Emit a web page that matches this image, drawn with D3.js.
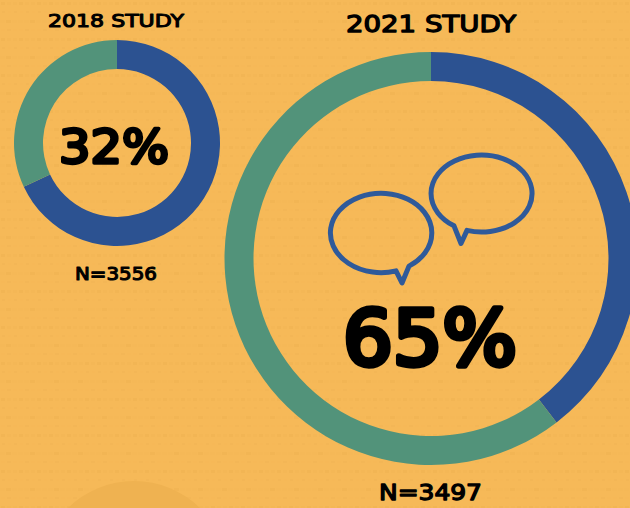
<!DOCTYPE html>
<html><head><meta charset="utf-8">
<script src="https://cdn.jsdelivr.net/npm/d3@7"></script>
<style>html,body{margin:0;padding:0;background:#F6B958;overflow:hidden}svg{display:block}
text{font-family:"DejaVu Sans",sans-serif;font-weight:400;fill:#000;stroke:#000;stroke-linejoin:round}</style></head>
<body><svg id="c" width="630" height="508"></svg>
<script>
const studies = ["2018 STUDY", "2021 STUDY"];
const blueShare = [68, 39.6];
const greenShare = [32, 60.4];
const percentLabels = ["32%", "65%"];
const sampleLabels = ["N=3556", "N=3497"];
const colors = ["#2C5291", "#52937A"];

const layout = [
  {cx:117, cy:143, R:103, r:74,
   title:{x:48,w:136,y:26.5,fs:18,sw:1.1}, pct:{x:59,w:110,y:163,fs:47,sw:3.4}, n:{x:75,w:82,y:279.5,fs:18,sw:1.1}},
  {cx:431, cy:258.5, R:206.5, r:177.5,
   title:{x:346,w:170,y:32,fs:23,sw:1.3}, pct:{x:343,w:174,y:365,fs:76,sw:5.5}, n:{x:379,w:103,y:500,fs:22,sw:1.3}}
];

const svg = d3.select("#c");
const defs = svg.append("defs");
const pat = defs.append("pattern").attr("id","weave").attr("patternUnits","userSpaceOnUse")
  .attr("width",48).attr("height",36);
const tex = "#E2A548";
d3.range(0,48,6).forEach((x,i)=>{
  pat.append("rect").attr("x",x+1).attr("y",2).attr("width",4).attr("height",3).attr("fill",tex).attr("opacity",i%3==0?.2:.09);
  pat.append("rect").attr("x",x+2).attr("y",11).attr("width",3).attr("height",2).attr("fill",tex).attr("opacity",i%2==0?.14:.06);
  pat.append("rect").attr("x",x).attr("y",20).attr("width",5).attr("height",3).attr("fill",tex).attr("opacity",i%4==1?.2:.07);
  pat.append("rect").attr("x",x+1).attr("y",29).attr("width",4).attr("height",2).attr("fill",tex).attr("opacity",i%3==1?.14:.06);
});
svg.append("rect").attr("width",630).attr("height",508).attr("fill","#F6B958");
svg.append("rect").attr("width",630).attr("height",508).attr("fill","url(#weave)");
svg.append("circle").attr("cx",134).attr("cy",575).attr("r",94).attr("fill","#EFB251");

const pie = d3.pie().sort(null);
studies.forEach((s,i)=>{
  const L = layout[i];
  const arc = d3.arc().innerRadius(L.r).outerRadius(L.R);
  svg.append("g").attr("transform",`translate(${L.cx},${L.cy})`)
    .selectAll("path").data(pie([blueShare[i],greenShare[i]])).join("path")
    .attr("d",arc).attr("fill",(d,j)=>colors[j]);
  [[s,L.title],[percentLabels[i],L.pct],[sampleLabels[i],L.n]].forEach(([t,p])=>{
    svg.append("text").attr("x",p.x).attr("y",p.y).attr("font-size",p.fs)
      .attr("stroke-width",p.sw).attr("textLength",p.w).attr("lengthAdjust","spacingAndGlyphs").text(t);
  });
});

const bubbles = [
  "M409,266.1 A50.7,39.7 0 1 0 396,270.9 L402,283 Z",
  "M467,230.4 A50.5,38.5 0 1 0 454,225.8 L461,243.5 Z"
];
svg.selectAll("path.b").data(bubbles).join("path").attr("class","b").attr("d",d=>d)
  .attr("fill","none").attr("stroke","#2F5A9A").attr("stroke-width",5).attr("stroke-linejoin","round");
</script></body></html>
